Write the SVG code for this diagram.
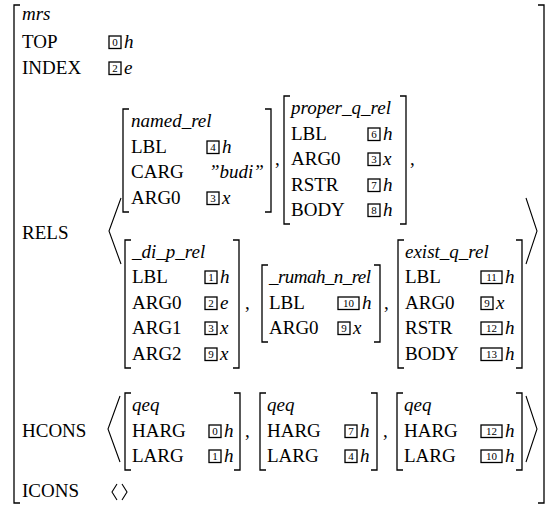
<svg xmlns="http://www.w3.org/2000/svg" width="546" height="506" viewBox="0 0 546 506">
<style>
  text { font-family: "Liberation Serif", "Times New Roman", serif; font-size: 19px; fill: #000; }
  .i { font-style: italic; }
  .n { font-size: 11px; text-anchor: middle; }
  .br { fill: none; stroke: #000; stroke-width: 1.3; }
  .ang { fill: none; stroke: #000; stroke-width: 1.1; }
  .bx { fill: none; stroke: #000; stroke-width: 1.3; }
</style>
<rect width="546" height="506" fill="#fff"/>

<g id="mrs">
  <path class="br" d="M20 5H14V503H20"/>
  <path class="br" d="M538 5H544V503H538"/>
  <text x="22" y="20" class="i">mrs</text>
  <text x="22" y="48">TOP</text>
  <rect class="bx" x="109" y="36" width="12" height="12.5"/><text class="n" x="115" y="46">0</text>
  <text x="124" y="48" class="i">h</text>
  <text x="22" y="74">INDEX</text>
  <rect class="bx" x="109" y="62" width="12" height="12.5"/><text class="n" x="115" y="72">2</text>
  <text x="124" y="74" class="i">e</text>
  <text x="22" y="239">RELS</text>
  <text x="22" y="437">HCONS</text>
  <text x="22" y="497">ICONS</text>
  <polyline class="ang" points="117,484 112,492 117,500"/>
  <polyline class="ang" points="122,484 127,492 122,500"/>
</g>

<g id="rels-list">
  <polyline class="ang" points="121,198 109,231 121,264"/>
  <polyline class="ang" points="526,198 537,231 526,264"/>
  <text x="275" y="165">,</text>
  <text x="410" y="165">,</text>
  <text x="245" y="309">,</text>
  <text x="384" y="309">,</text>
</g>

<g id="named_rel">
  <path class="br" d="M129 109H123V212H129"/>
  <path class="br" d="M265 109H271V212H265"/>
  <text x="131" y="127" class="i">named_rel</text>
  <text x="131" y="153">LBL</text>
  <rect class="bx" x="207" y="141" width="12" height="12.5"/><text class="n" x="213" y="151">4</text>
  <text x="222" y="153" class="i">h</text>
  <text x="131" y="178">CARG</text>
  <text x="209" y="178" class="i">”budi”</text>
  <text x="131" y="204">ARG0</text>
  <rect class="bx" x="207" y="192" width="12" height="12.5"/><text class="n" x="213" y="202">3</text>
  <text x="222" y="204" class="i">x</text>
</g>

<g id="proper_q_rel">
  <path class="br" d="M290 96H284V224H290"/>
  <path class="br" d="M400 96H406V224H400"/>
  <text x="291" y="114" class="i">proper_q_rel</text>
  <text x="291" y="140">LBL</text>
  <rect class="bx" x="368" y="128" width="12" height="12.5"/><text class="n" x="374" y="138">6</text>
  <text x="383" y="140" class="i">h</text>
  <text x="291" y="165">ARG0</text>
  <rect class="bx" x="368" y="153" width="12" height="12.5"/><text class="n" x="374" y="163">3</text>
  <text x="383" y="165" class="i">x</text>
  <text x="291" y="191">RSTR</text>
  <rect class="bx" x="368" y="179" width="12" height="12.5"/><text class="n" x="374" y="189">7</text>
  <text x="383" y="191" class="i">h</text>
  <text x="291" y="216">BODY</text>
  <rect class="bx" x="368" y="204" width="12" height="12.5"/><text class="n" x="374" y="214">8</text>
  <text x="383" y="216" class="i">h</text>
</g>

<g id="di_p_rel">
  <path class="br" d="M131 240H125V368H131"/>
  <path class="br" d="M233 240H239V368H233"/>
  <text x="132" y="258" class="i">_di_p_rel</text>
  <text x="132" y="283">LBL</text>
  <rect class="bx" x="205" y="271" width="12" height="12.5"/><text class="n" x="211" y="281">1</text>
  <text x="220" y="283" class="i">h</text>
  <text x="132" y="309">ARG0</text>
  <rect class="bx" x="205" y="297" width="12" height="12.5"/><text class="n" x="211" y="307">2</text>
  <text x="220" y="309" class="i">e</text>
  <text x="132" y="334">ARG1</text>
  <rect class="bx" x="205" y="322" width="12" height="12.5"/><text class="n" x="211" y="332">3</text>
  <text x="220" y="334" class="i">x</text>
  <text x="132" y="360">ARG2</text>
  <rect class="bx" x="205" y="348" width="12" height="12.5"/><text class="n" x="211" y="358">9</text>
  <text x="220" y="360" class="i">x</text>
</g>

<g id="rumah_n_rel">
  <path class="br" d="M268 265H262V342H268"/>
  <path class="br" d="M374 265H380V342H374"/>
  <text x="269" y="283" class="i" textLength="102">_rumah_n_rel</text>
  <text x="269" y="309">LBL</text>
  <rect class="bx" x="338" y="297" width="21" height="12.5"/><text class="n" x="348.5" y="307">10</text>
  <text x="362" y="309" class="i">h</text>
  <text x="269" y="334">ARG0</text>
  <rect class="bx" x="338" y="322" width="12" height="12.5"/><text class="n" x="344" y="332">9</text>
  <text x="353" y="334" class="i">x</text>
</g>

<g id="exist_q_rel">
  <path class="br" d="M404 240H398V368H404"/>
  <path class="br" d="M516 240H522V368H516"/>
  <text x="405" y="258" class="i">exist_q_rel</text>
  <text x="405" y="283">LBL</text>
  <rect class="bx" x="481" y="271" width="21" height="12.5"/><text class="n" x="491.5" y="281">11</text>
  <text x="505" y="283" class="i">h</text>
  <text x="405" y="309">ARG0</text>
  <rect class="bx" x="481" y="297" width="12" height="12.5"/><text class="n" x="487" y="307">9</text>
  <text x="496" y="309" class="i">x</text>
  <text x="405" y="334">RSTR</text>
  <rect class="bx" x="481" y="322" width="21" height="12.5"/><text class="n" x="491.5" y="332">12</text>
  <text x="505" y="334" class="i">h</text>
  <text x="405" y="360">BODY</text>
  <rect class="bx" x="481" y="348" width="21" height="12.5"/><text class="n" x="491.5" y="358">13</text>
  <text x="505" y="360" class="i">h</text>
</g>

<g id="hcons-list">
  <polyline class="ang" points="120,396 108,429 120,462"/>
  <polyline class="ang" points="526,396 537,429 526,462"/>
  <text x="245" y="437">,</text>
  <text x="383" y="437">,</text>
</g>

<g id="qeq1">
  <path class="br" d="M131 393H125V470H131"/>
  <path class="br" d="M234 393H240V470H234"/>
  <text x="132" y="411" class="i">qeq</text>
  <text x="132" y="437">HARG</text>
  <rect class="bx" x="209" y="425" width="12" height="12.5"/><text class="n" x="215" y="435">0</text>
  <text x="224" y="437" class="i">h</text>
  <text x="132" y="462">LARG</text>
  <rect class="bx" x="209" y="450" width="12" height="12.5"/><text class="n" x="215" y="460">1</text>
  <text x="224" y="462" class="i">h</text>
</g>

<g id="qeq2">
  <path class="br" d="M266 393H260V470H266"/>
  <path class="br" d="M371 393H377V470H371"/>
  <text x="267" y="411" class="i">qeq</text>
  <text x="267" y="437">HARG</text>
  <rect class="bx" x="345" y="425" width="12" height="12.5"/><text class="n" x="351" y="435">7</text>
  <text x="360" y="437" class="i">h</text>
  <text x="267" y="462">LARG</text>
  <rect class="bx" x="345" y="450" width="12" height="12.5"/><text class="n" x="351" y="460">4</text>
  <text x="360" y="462" class="i">h</text>
</g>

<g id="qeq3">
  <path class="br" d="M403 393H397V470H403"/>
  <path class="br" d="M516 393H522V470H516"/>
  <text x="404" y="411" class="i">qeq</text>
  <text x="404" y="437">HARG</text>
  <rect class="bx" x="481" y="425" width="21" height="12.5"/><text class="n" x="491.5" y="435">12</text>
  <text x="505" y="437" class="i">h</text>
  <text x="404" y="462">LARG</text>
  <rect class="bx" x="481" y="450" width="21" height="12.5"/><text class="n" x="491.5" y="460">10</text>
  <text x="505" y="462" class="i">h</text>
</g>
</svg>
